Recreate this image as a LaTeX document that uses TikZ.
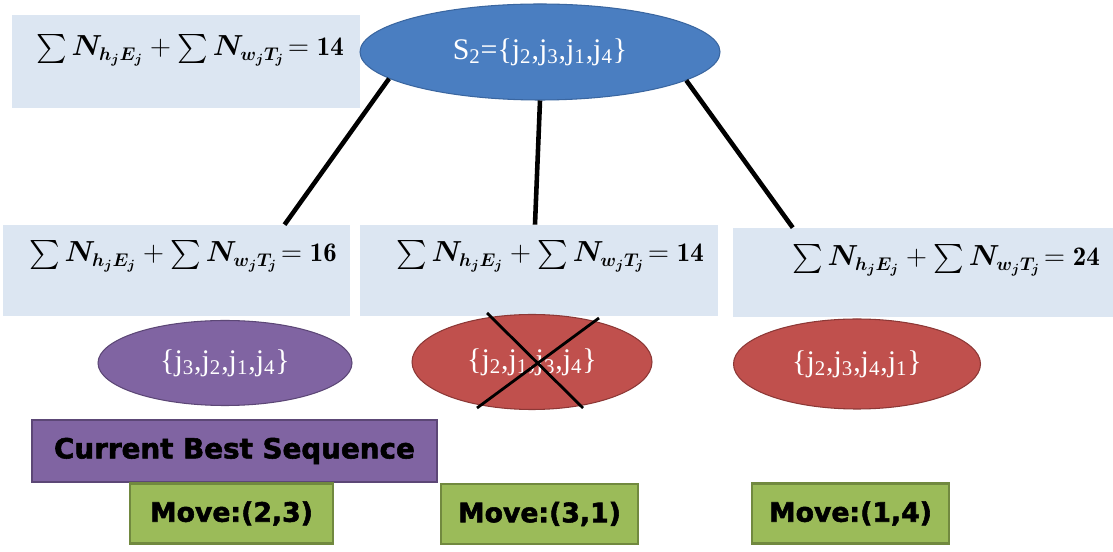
\documentclass[tikz,border=0pt]{standalone}
\usepackage{fontspec}
\usepackage{graphicx}
\usepackage{amsmath,bm}
\newfontfamily\jobfont{Liberation Serif}
\newfontfamily\tagfont{DejaVu Sans Bold}[FakeBold=2]
\usetikzlibrary{shapes.geometric,calc}
\definecolor{costfill}{RGB}{220,230,242}
\definecolor{rootblue}{RGB}{74,126,193}
\definecolor{rootline}{RGB}{58,102,160}
\definecolor{bestpurple}{RGB}{128,100,162}
\definecolor{bestline}{RGB}{92,71,118}
\definecolor{dropred}{RGB}{192,80,77}
\definecolor{dropline}{RGB}{140,56,54}
\definecolor{movegreen}{RGB}{155,187,89}
\definecolor{moveline}{RGB}{113,137,63}
\newcommand{\costsum}[1]{\scalebox{0.955}{$\sum\bm{N}_{\bm{h_jE_j}}+\sum\bm{N}_{\bm{w_jT_j}}\!=\mathbf{#1}$}}

\begin{document}
\begin{tikzpicture}[
    costbox/.style={fill=costfill,minimum height=1.82cm,inner sep=0pt},
    costtext/.style={font=\fontsize{16}{19}\selectfont,inner sep=0pt},
    jobset/.style={ellipse,draw,line width=0.6pt,text=white,inner sep=0pt,font=\jobfont\fontsize{17}{20}\selectfont},
    movetag/.style={fill=movegreen,draw=moveline,line width=1.5pt,minimum width=3.94cm,minimum height=1.2cm,inner sep=0pt,font=\tagfont\fontsize{15.2}{17}\selectfont},
    tree/.style={line width=2.6pt}]
    \useasboundingbox (0,0) rectangle (22.26,-11.04);
    % cost boxes
    \node[costbox,minimum width=6.96cm,minimum height=1.86cm] (c0) at (3.72,-1.23) {};
    \node[costbox,minimum width=6.94cm] (c1) at (3.53,-5.41) {};
    \node[costbox,minimum width=7.16cm] (c2) at (10.78,-5.41) {};
    \node[costbox,minimum width=7.60cm,minimum height=1.78cm] (c3) at (18.46,-5.45) {};
    \node[costtext] (t0) at (3.80,-1.00) {\costsum{14}};
    \node[costtext] (t1) at (3.66,-5.12) {\costsum{16}};
    \node[costtext] (t2) at (11.00,-5.12) {\costsum{14}};
    \node[costtext] (t3) at (18.92,-5.20) {\costsum{24}};
    % sequences
    \node[jobset,fill=rootblue,draw=rootline,minimum width=7.2cm,minimum height=1.92cm] (top) at (10.80,-1.04)
      {S\textsubscript{2}=\{j\textsubscript{2},j\textsubscript{3},j\textsubscript{1},j\textsubscript{4}\}};
    \node[jobset,fill=bestpurple,draw=bestline,minimum width=5.08cm,minimum height=1.7cm] (e1) at (4.50,-7.26)
      {\{j\textsubscript{3},j\textsubscript{2},j\textsubscript{1},j\textsubscript{4}\}};
    \node[jobset,fill=dropred,draw=dropline,minimum width=4.8cm,minimum height=1.9cm] (e2) at (10.64,-7.24)
      {\{j\textsubscript{2},j\textsubscript{1},j\textsubscript{3},j\textsubscript{4}\}};
    \node[jobset,fill=dropred,draw=dropline,minimum width=4.94cm,minimum height=1.8cm] (e3) at (17.14,-7.28)
      {\{j\textsubscript{2},j\textsubscript{3},j\textsubscript{4},j\textsubscript{1}\}};
    \draw[tree] (top.190)--(c1.23);
    \draw[tree] (top.south)--(c2.95);
    \draw[tree] (top.349)--(c3.161);
    % rejected move
    \draw[line width=1.6pt] ($(e2)+(-0.90,0.98)$)--($(e2)+(1.02,-0.92)$);
    \draw[line width=1.6pt] ($(e2)+(1.34,0.88)$)--($(e2)+(-1.10,-0.92)$);
    % tags
    \node[fill=bestpurple,draw=bestline,line width=1.5pt,minimum width=8.1cm,minimum height=1.24cm,inner sep=0pt,
      font=\tagfont\fontsize{15.8}{18}\selectfont] (best) at (4.69,-9.02) {Current Best Sequence};
    \node[movetag,minimum width=4.06cm] (m1) at (4.63,-10.27) {Move:(2,3)};
    \node[movetag] (m2) at (10.79,-10.28) {Move:(3,1)};
    \node[movetag] (m3) at (17.01,-10.27) {Move:(1,4)};
  \end{tikzpicture}
\end{document}
